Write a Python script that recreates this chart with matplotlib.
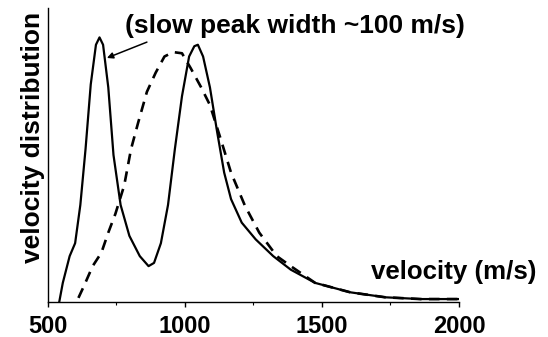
import matplotlib.pyplot as plt
from matplotlib.ticker import MultipleLocator

plt.rcParams['font.family'] = ['Liberation Sans', 'DejaVu Sans']
plt.rcParams['font.weight'] = 'bold'

# solid curve (two peaks)
solid_v = [541, 554, 579, 599, 618, 637, 656, 675, 688, 701, 720, 739, 765, 797,
           835, 867, 887, 912, 938, 963, 989, 1015, 1034, 1047, 1066, 1091, 1117,
           1143, 1168, 1207, 1258, 1322, 1386, 1475, 1603, 1731, 1859, 2000]
solid_y = [0.0, 0.065, 0.156, 0.20, 0.33, 0.52, 0.74, 0.875, 0.90, 0.875, 0.73,
           0.50, 0.33, 0.225, 0.156, 0.122, 0.133, 0.20, 0.33, 0.52, 0.70, 0.835,
           0.87, 0.875, 0.835, 0.73, 0.58, 0.44, 0.35, 0.27, 0.213, 0.156, 0.11,
           0.065, 0.033, 0.016, 0.01, 0.01]

# dashed curve (one broad peak)
dash_v = [611, 631, 663, 695, 720, 746, 778, 803, 829, 861, 893, 925, 957, 989,
          1021, 1059, 1091, 1130, 1168, 1219, 1271, 1335, 1386, 1475, 1603, 1731,
          1859, 2000]
dash_y = [0.014, 0.054, 0.122, 0.168, 0.236, 0.30, 0.396, 0.52, 0.61, 0.715, 0.78,
          0.835, 0.85, 0.846, 0.795, 0.73, 0.67, 0.555, 0.44, 0.327, 0.236, 0.156,
          0.122, 0.065, 0.033, 0.016, 0.01, 0.01]

fig = plt.figure(figsize=(5.48, 3.37), dpi=100)
ax = fig.add_axes([48 / 548, 35 / 337, 411 / 548, 294 / 337])

ax.plot(solid_v, solid_y, color='black', lw=1.6)
ax.plot(dash_v, dash_y, color='black', lw=1.9, dashes=(4, 2.8))

ax.set_xlim(500, 2000)
ax.set_ylim(0, 1)
ax.spines['top'].set_visible(False)
ax.spines['right'].set_visible(False)
ax.spines['left'].set_linewidth(1.0)
ax.spines['bottom'].set_linewidth(1.0)
ax.set_yticks([])
ax.set_xticks([500, 1000, 1500, 2000])
ax.xaxis.set_minor_locator(MultipleLocator(250))
ax.tick_params(axis='x', which='major', length=3.5, width=1.0, pad=6,
               labelsize=17)
ax.tick_params(axis='x', which='minor', length=2, width=0.8)
for lbl in ax.get_xticklabels():
    lbl.set_fontweight('bold')

ax.annotate('', xy=(715, 0.83), xytext=(861, 0.884),
            arrowprops=dict(arrowstyle='-|>', color='black', lw=1.1,
                            mutation_scale=9, shrinkA=0, shrinkB=0))
ax.text(781, 0.939, '(slow peak width ~100 m/s)', fontsize=19, fontweight='bold',
        va='center', ha='left', clip_on=False)
ax.text(1679, 0.102, 'velocity (m/s)', fontsize=18.6, fontweight='bold',
        va='center', ha='left', clip_on=False)
fig.text(33 / 548, 1 - 137.5 / 337, 'velocity distribution', rotation=90,
         fontsize=19, fontweight='bold', ha='center', va='center')

fig.savefig('out.png', dpi=100)
